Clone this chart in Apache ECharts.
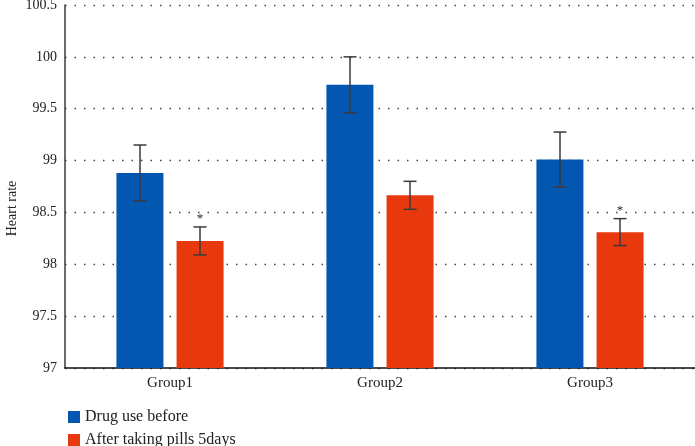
<!DOCTYPE html>
<html><head><meta charset="utf-8">
<script src="https://cdn.jsdelivr.net/npm/echarts@6/dist/echarts.min.js"></script>
<style>html,body{margin:0;padding:0;background:#fff}#c{width:695px;height:446px}</style>
</head><body><div id="c"></div>
<script>
const categories = ['Group1', 'Group2', 'Group3'];
const seriesNames = ['Drug use before', 'After taking pills 5days'];
const beforeValues = [98.88, 99.73, 99.01];
const beforeErrors = [0.27, 0.27, 0.265];
const afterValues = [98.225, 98.665, 98.31];
const afterErrors = [0.135, 0.135, 0.13];
const afterSignificant = [true, false, true];
const yTicks = [97, 97.5, 98, 98.5, 99, 99.5, 100, 100.5];

const FONT = '"Liberation Serif", "DejaVu Serif", serif';
const BLUE = '#0457B0';
const RED = '#E8380D';

function errorSeries(values, errors, offset, stars) {
  return {
    type: 'custom',
    z: 10,
    data: categories.map((c, i) => [i, values[i], errors[i], stars ? (stars[i] ? 1 : 0) : 0]),
    renderItem: function (params, api) {
      const i = api.value(0), v = api.value(1), e = api.value(2), s = api.value(3);
      const top = api.coord([i, v + e]);
      const bot = api.coord([i, v - e]);
      const x = top[0] + offset;
      const cap = 6.5;
      const style = { stroke: '#3a3a3a', lineWidth: 1.5 };
      const children = [
        { type: 'line', shape: { x1: x, y1: top[1], x2: x, y2: bot[1] }, style },
        { type: 'line', shape: { x1: x - cap, y1: top[1], x2: x + cap, y2: top[1] }, style },
        { type: 'line', shape: { x1: x - cap, y1: bot[1], x2: x + cap, y2: bot[1] }, style }
      ];
      if (s) {
        children.push({ type: 'text', style: { text: '*', x: x, y: top[1] - 2, align: 'center', verticalAlign: 'bottom', font: '13px ' + FONT, fill: '#222' } });
      }
      return { type: 'group', children };
    }
  };
}

const chart = echarts.init(document.getElementById('c'));
chart.setOption({
  animation: false,
  backgroundColor: '#fff',
  grid: { left: 65, right: 0, top: 5, bottom: 78, outerBoundsMode: 'none', containLabel: false },
  legend: {
    orient: 'vertical', left: 63, top: 404, height: 60, itemWidth: 12, itemHeight: 12, itemGap: 7,
    icon: 'rect',
    textStyle: { fontFamily: FONT, fontSize: 16, color: '#222' },
    data: seriesNames
  },
  xAxis: {
    type: 'category', data: categories,
    axisLine: { lineStyle: { color: '#111', width: 1.5 } },
    axisTick: { show: false },
    axisLabel: { fontFamily: FONT, fontSize: 15, color: '#222', margin: 8 }
  },
  yAxis: {
    type: 'value', min: yTicks[0], max: yTicks[yTicks.length - 1], interval: 0.5,
    name: 'Heart rate', nameLocation: 'middle', nameGap: 46, nameRotate: 90,
    nameTextStyle: { fontFamily: FONT, fontSize: 14, color: '#222', padding: [0, 0, 0, -44] },
    nameMoveOverlap: false,
    axisLine: { show: true, lineStyle: { color: '#3a3a3a', width: 1.5 } },
    axisTick: { show: false },
    axisLabel: { fontFamily: FONT, fontSize: 14, color: '#222', margin: 8 },
    splitLine: { show: true, lineStyle: { type: [1.5, 8], color: '#444', width: 1.3 } }
  },
  series: [
    { name: seriesNames[0], type: 'bar', data: beforeValues, barWidth: 47, barGap: '28%', itemStyle: { color: BLUE } },
    { name: seriesNames[1], type: 'bar', data: afterValues, barWidth: 47, barGap: '28%', itemStyle: { color: RED } },
    errorSeries(beforeValues, beforeErrors, -30, null),
    errorSeries(afterValues, afterErrors, 30, afterSignificant)
  ]
});
</script></body></html>
